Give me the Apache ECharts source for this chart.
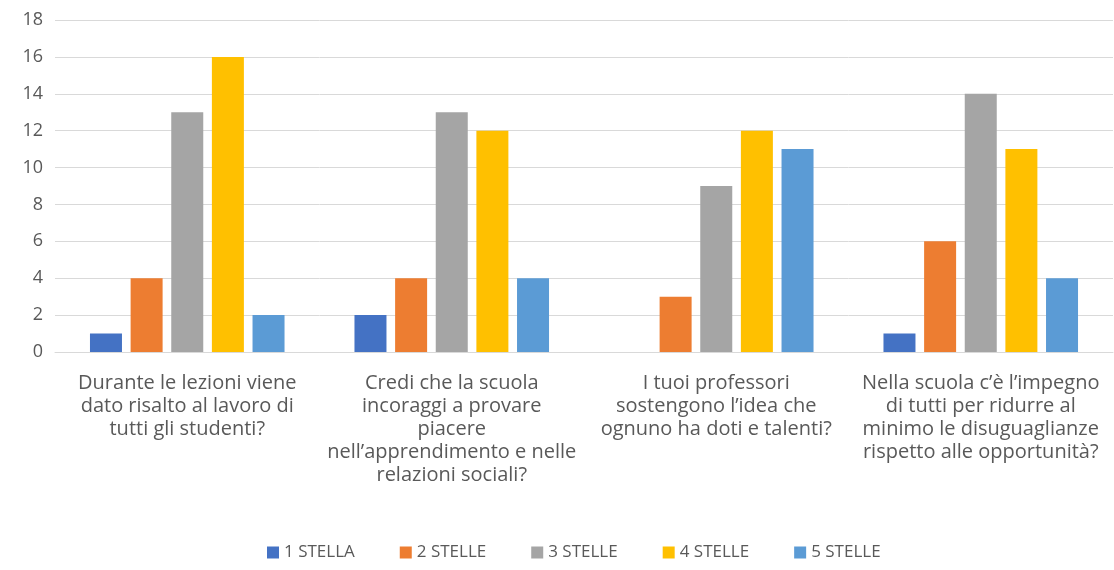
<!DOCTYPE html>
<html>
<head>
  <meta charset="utf-8">
  <title>Valutazioni</title>
  <script src="https://cdn.jsdelivr.net/npm/echarts@6/dist/echarts.min.js"></script>
  <style>
    html, body { margin: 0; padding: 0; background: #fff; }
    #chart { width: 1114px; height: 570px; }
  </style>
</head>
<body>
  <div id="chart"></div>
  <script>
    // domande (a capo come nel grafico originale)
    var categorie = [
      'Durante le lezioni viene\ndato risalto al lavoro di\ntutti gli studenti?',
      'Credi che la scuola\nincoraggi a provare\npiacere\nnell\u2019apprendimento e nelle\nrelazioni sociali?',
      'I tuoi professori\nsostengono l\u2019idea che\nognuno ha doti e talenti?',
      'Nella scuola c\u2019\u00e8 l\u2019impegno\ndi tutti per ridurre al\nminimo le disuguaglianze\nrispetto alle opportunit\u00e0?'
    ];
    var nomiSerie = ['1 STELLA', '2 STELLE', '3 STELLE', '4 STELLE', '5 STELLE'];
    var stelle1 = [1, 2, 0, 1];
    var stelle2 = [4, 4, 3, 6];
    var stelle3 = [13, 13, 9, 14];
    var stelle4 = [16, 12, 12, 11];
    var stelle5 = [2, 4, 11, 4];
    var colori = ['#4472C4', '#ED7D31', '#A5A5A5', '#FFC000', '#5B9BD5'];

    var font = '"Open Sans", sans-serif';
    var valori = [stelle1, stelle2, stelle3, stelle4, stelle5];

    var myChart = echarts.init(document.getElementById('chart'));
    var option = {
      animation: false,
      color: colori,
      grid: { left: 55, right: 1, top: 20, bottom: 218 },
      legend: {
        bottom: 4,
        left: 262,
        itemWidth: 12,
        itemHeight: 12,
        itemGap: 45,
        icon: 'rect',
        textStyle: { fontFamily: font, fontSize: 17, color: '#595959' },
        data: nomiSerie
      },
      xAxis: {
        type: 'category',
        data: categorie,
        axisLine: { lineStyle: { color: '#d9d9d9', width: 1 } },
        axisTick: { show: false },
        axisLabel: {
          interval: 0,
          fontFamily: font,
          fontSize: 20,
          lineHeight: 23,
          color: '#595959',
          margin: 20
        }
      },
      yAxis: {
        type: 'value',
        min: 0,
        max: 18,
        interval: 2,
        axisLine: { show: false },
        axisTick: { show: false },
        splitLine: { lineStyle: { color: '#d9d9d9', width: 1 } },
        axisLabel: { fontFamily: font, fontSize: 18, color: '#595959', margin: 12 }
      },
      series: nomiSerie.map(function (n, i) {
        return {
          name: n,
          type: 'bar',
          data: valori[i],
          barWidth: 32,
          barGap: '27%'
        };
      })
    };
    myChart.setOption(option);
  </script>
</body>
</html>
